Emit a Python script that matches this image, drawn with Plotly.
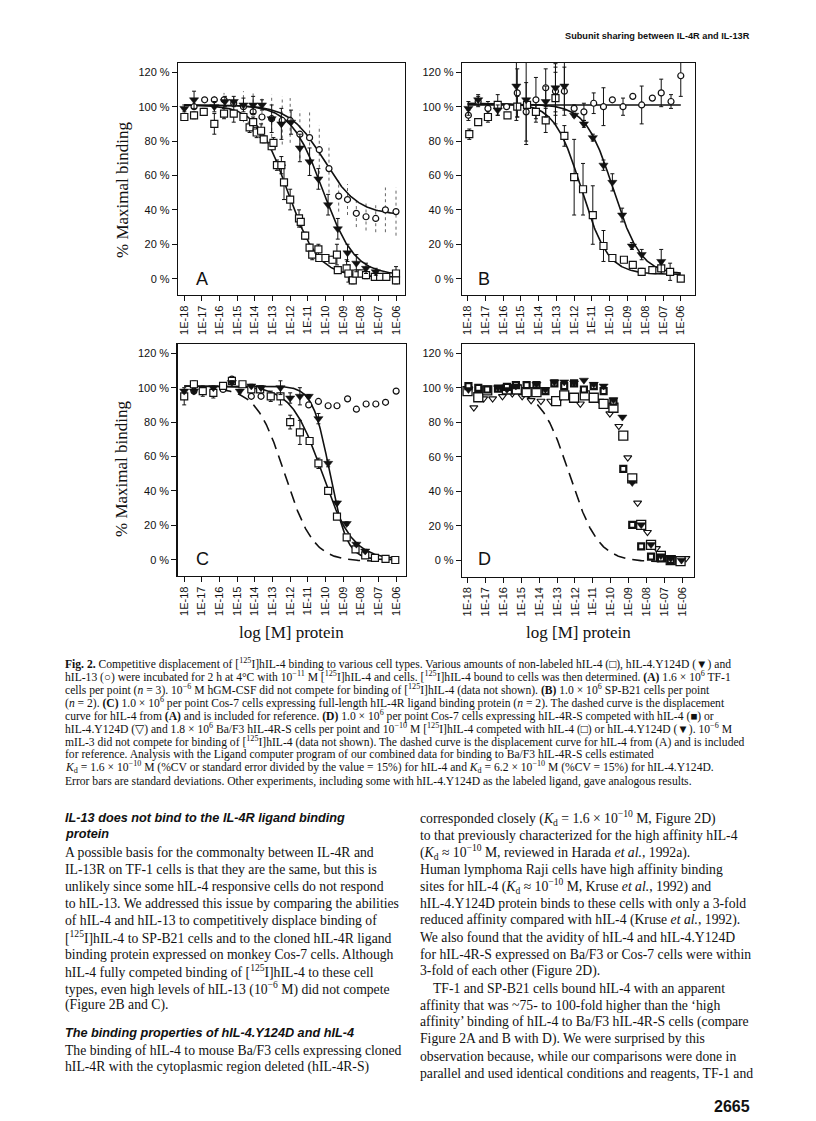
import numpy as np
import plotly.graph_objects as go

W, H = 816, 1121

# ---------------- data ----------------
decades = list(range(-18, -5))
decade_labels = ["1E-18", "1E-17", "1E-16", "1E-15", "1E-14", "1E-13", "1E-12",
                 "1E-11", "1E-10", "1E-09", "1E-08", "1E-07", "1E-06"]
pct_vals = [0, 20, 40, 60, 80, 100, 120]
pct_labels = ["0 %", "20 %", "40 %", "60 %", "80 %", "100 %", "120 %"]

# Panel A (TF-1)
A_sq_x = [-18.0, -17.45, -16.9, -16.3, -15.75, -15.2, -14.65, -14.3, -14.1, -13.9, -13.65, -13.5, -13.05, -12.95,
          -12.75, -12.5, -12.35, -12.0, -11.5, -11.4, -11.15, -10.9, -10.75, -10.4, -10.35, -10.0, -9.6, -9.35,
          -9.3, -8.8, -8.7, -8.45, -8.25, -7.95, -7.7, -7.2, -6.9, -6.55, -6.0, -6.0]
A_sq_y = [94, 95, 97, 90, 96, 96, 94, 88, 91, 85, 86, 81, 77, 79, 66, 66, 56, 46, 35, 33, 25, 18, 14, 17, 12, 12,
          11, 14, 5, 6, 3, -1, 3, 3, 2, 1, 1, 1, 3, -1]
A_sq_e = [2, 2, 2, 6, 3, 5, 2, 3, 3, 3, 4, 2, 2, 3, 3, 5, 10, 6, 5, 3, 2, 2, 3, 3, 2, 2, 2, 6, 2, 5, 5, 2, 2, 2,
          2, 2, 2, 2, 4, 2]
A_tri_x = [-18.0, -17.45, -16.3, -15.7, -15.2, -14.65, -14.1, -13.6, -13.05, -12.5, -11.95, -11.45, -10.9, -10.4,
           -9.85, -9.3, -8.75, -8.25, -7.7, -7.15]
A_tri_y = [99, 104, 100, 103, 103, 101, 101, 101, 93, 90, 91, 76, 68, 58, 43, 29, 15, 9, 6, 4]
A_tri_e = [2, 5, 3, 3, 3, 4, 5, 3, 8, 9, 7, 8, 8, 6, 6, 6, 5, 5, 3, 2]
A_cir_x = [-17.45, -16.85, -16.3, -15.75, -15.2, -14.65, -14.1, -13.6, -13.05, -12.45, -12.0, -11.45, -10.9,
           -10.35, -9.8, -9.25, -8.75, -8.25, -7.7, -7.15, -6.6, -6.0]
A_cir_y = [100, 104, 104, 104, 102, 100, 97, 94, 93, 92, 92, 84, 82, 75, 64, 48, 46, 38, 36, 35, 40, 39]
A_cir_e = [0, 0, 3, 4, 5, 9, 12, 12, 14, 14, 13, 14, 15, 14, 14, 9, 9, 8, 8, 8, 13, 14]

# Panel B (SP-B21)
B_sq_x = [-17.9, -17.4, -16.85, -16.3, -15.75, -15.2, -14.65, -14.15, -13.6, -13.05, -12.55, -12.0, -11.5,
          -10.95, -10.35, -9.85, -9.2, -8.7, -8.2, -7.6, -7.1, -6.6, -6.0]
B_sq_y = [84, 91, 94, 101, 95, 100, 101, 97, 92, 105, 83, 59, 52, 37, 19, 12, 11, 8, 4, 5, 6, 4, 0]
B_sq_e = [3, 1, 3, 2, 1, 6, 2, 4, 7, 15, 6, 22, 15, 17, 9, 1, 1, 2, 2, 2, 3, 5, 1]
B_tri_x = [-17.95, -17.4, -16.3, -15.25, -14.7, -13.6, -13.05, -12.55, -12.0, -11.45, -10.95, -10.35, -9.85,
           -9.3, -8.75, -8.2, -7.1]
B_tri_y = [99, 104, 98, 112, 104, 103, 111, 112, 95, 90, 82, 66, 56, 37, 19, 14, 10]
B_tri_e = [4, 3, 3, 20, 26, 9, 14, 14, 1, 2, 2, 3, 5, 4, 2, 3, 7]
B_cir_x = [-17.95, -17.4, -16.85, -16.3, -15.8, -15.2, -14.7, -14.15, -13.6, -13.05, -12.55, -12.0, -11.45,
           -10.9, -10.35, -9.85, -9.25, -8.7, -8.2, -7.6, -7.1, -6.55, -6.0]
B_cir_y = [95, 103, 99, 101, 100, 108, 97, 104, 111, 109, 109, 99, 97, 102, 100, 104, 100, 106, 101, 105, 108,
           103, 118]
B_cir_e = [3, 3, 4, 6, 0, 14, 17, 13, 11, 14, 14, 2, 5, 6, 11, 0, 5, 0, 11, 0, 8, 4, 12]

# Panel C (Cos-7, full-length hIL-4R)
C_sq_x = [-18.0, -17.45, -16.95, -16.35, -15.8, -15.3, -14.7, -14.2, -13.7, -13.1, -12.55, -12.0, -11.45,
          -10.9, -10.4, -9.85, -9.35, -8.8, -8.3, -7.75, -7.2, -6.6, -6.05]
C_sq_y = [95, 102, 98, 97, 101, 104, 102, 99, 99, 95, 95, 80, 74, 69, 56, 40, 25, 13, 6, 2.5, 1, 0.5, -0.2]
C_sq_e = [5, 2, 3, 3, 1, 1, 1, 1, 1, 3, 5, 4, 7, 1, 3, 1, 1, 1, 1, 1, 0, 0, 0]
C_tri_x = [-18.0, -17.45, -16.35, -15.3, -14.85, -14.2, -13.65, -12.55, -12.0, -11.45, -10.95, -10.4, -9.85,
           -9.35, -8.8, -8.25, -7.75]
C_tri_y = [98, 98, 100, 103, 98, 101, 100, 100, 94, 95, 95, 82, 56, 33, 21, 9, 5]
C_tri_e = [1, 1, 1, 1, 1, 1, 1, 4, 3, 5, 1, 3, 2, 1, 1, 1, 1]
C_cir_x = [-17.45, -16.35, -15.8, -15.3, -14.2, -13.65, -13.1, -12.55, -10.95, -10.4, -9.85, -9.35, -8.75,
           -8.25, -7.7, -7.15, -6.6, -6.0]
C_cir_y = [98, 98, 99, 105, 95, 95, 95, 95, 90, 92, 89.5, 89.5, 93.5, 87.5, 90.5, 90.5, 91.5, 98]

# Panel D (hIL-4R-S)
D_cos_sq_x = [-17.95, -17.4, -16.9, -16.3, -15.8, -15.3, -14.7, -14.15, -13.65, -13.15, -12.6, -12.05, -11.5,
              -10.95, -10.4, -9.85, -9.3, -8.8, -8.3, -7.75, -7.2, -6.65]
D_cos_sq_y = [101, 100, 99, 99.5, 100.5, 101.5, 101.5, 101.5, 98, 102.5, 101, 102.5, 99, 101, 98, 92, 53,
              20.5, 8, 2, 1, 0]
D_cos_tri_x = [-17.65, -17.1, -16.6, -16.05, -15.5, -14.95, -14.45, -13.9, -13.35, -12.85, -12.25, -11.7,
               -10.6, -10.05, -9.55, -9.05, -8.5, -7.95, -7.45, -6.95, -6.35, -5.8]
D_cos_tri_y = [88.5, 93.7, 93.7, 95, 96.6, 95, 92.7, 92.3, 92.3, 93.7, 95.6, 90.7, 92.3, 85, 77.7, 59.5, 33.2,
               16.2, 6.8, 1, 1, 1]
D_baf_sq_x = [-18.0, -17.4, -16.9, -15.8, -15.25, -14.7, -14.15, -13.05, -12.6, -12.05, -11.45, -10.95, -10.4,
              -9.85, -9.3, -8.8, -8.3, -7.75, -7.2, -6.65, -6.1]
D_baf_sq_y = [98, 94.5, 98.5, 99, 99, 97.5, 97.5, 92.3, 95.6, 94.2, 95.6, 94.2, 90.7, 88.4, 72.2, 47.4, 20.5,
              8.8, 2.5, 0, -0.6]
D_baf_tri_x = [-17.95, -16.3, -15.8, -15.3, -14.15, -13.65, -13.15, -12.6, -12.05, -11.5, -10.95, -10.4,
               -9.85, -9.35, -8.8, -8.3, -7.75, -7.2, -6.65, -6.05]
D_baf_tri_y = [99, 100, 99, 101, 102, 99, 103.4, 103.4, 102.8, 104.4, 102, 101, 93, 83, 45, 20.5, 9, 2.5, 1, 0]

# fitted displacement curves: (top, bottom, log IC50, slope)
A_sq_fit = (101, 1, -12.15, 0.50)
A_tri_fit = (101, 2, -10.15, 0.48)
A_cir_fit = (101, 37, -10.1, 0.45)
B_sq_fit = (102, 2.5, -11.6, 0.58)
B_tri_fit = (101.5, 2.5, -9.8, 0.56)
B_cir_fit = (101, 101, -10.0, 1.0)
C_sq_fit = (101, 0, -10.2, 0.50)
C_tri_fit = (101, 0, -9.76, 0.90)
ref_fit = (100, -1, -12.3, 0.54)      # dashed reference (hIL-4 from A)
ref_span = (-16.0, -7.3)


def curve(p, x0=-18.0, x1=-6.0):
    top, bot, c, n = p
    xs = np.linspace(x0, x1, 300)
    return xs, bot + (top - bot) / (1 + 10 ** ((xs - c) * n))


def px_x(p):
    return p / W


def px_y(p):
    return 1 - p / H


fig = go.Figure()

panels = {
    "A": dict(ax="", x0=178, x1=405, y0=63, y1=295, xr=[-18.36, -5.49]),
    "B": dict(ax="2", x0=462, x1=695, y0=63, y1=295, xr=[-18.31, -5.2]),
    "C": dict(ax="3", x0=177.5, x1=405.5, y0=344, y1=576, xr=[-18.38, -5.47]),
    "D": dict(ax="4", x0=462, x1=694, y0=344, y1=576.5, xr=[-18.31, -5.35]),
}
yr = [-9.5, 125.4]
tickfont = dict(family="Liberation Sans, Arial", size=11, color="#111")

layout_axes = {}
for name, p in panels.items():
    ax = p["ax"]
    layout_axes["xaxis" + ax] = dict(
        domain=[px_x(p["x0"]), px_x(p["x1"])], range=p["xr"], anchor="y" + ax,
        tickvals=decades, ticktext=decade_labels, tickangle=-90, ticks="outside", ticklen=5,
        tickcolor="#111", showline=True, linecolor="#111", linewidth=1.2, mirror=True,
        showgrid=False, zeroline=False, tickfont=tickfont, fixedrange=True)
    layout_axes["yaxis" + ax] = dict(
        domain=[px_y(p["y1"]), px_y(p["y0"])], range=yr, anchor="x" + ax,
        tickvals=pct_vals, ticktext=pct_labels, ticks="outside", ticklen=5,
        tickcolor="#111", showline=True, linecolor="#111", linewidth=1.2, mirror=True,
        showgrid=False, zeroline=False, tickfont=tickfont, fixedrange=True)


def refs(name):
    ax = panels[name]["ax"]
    return dict(xaxis="x" + ax, yaxis="y" + ax)


def add_curve(name, p, dash="solid", x0=-18.0, x1=-6.0):
    xs, ys = curve(p, x0, x1)
    fig.add_trace(go.Scatter(x=xs, y=ys, mode="lines", line=dict(color="#111", width=1.6, dash=dash),
                             hoverinfo="skip", showlegend=False, **refs(name)))


def add_pts(name, x, y, symbol, size, fill, err=None, lw=1.2):
    kw = {}
    if err is not None:
        kw["error_y"] = dict(type="data", array=err, color="#111", thickness=1, width=2)
    fig.add_trace(go.Scatter(x=x, y=y, mode="markers",
                             marker=dict(symbol=symbol, size=size, color=fill,
                                         line=dict(color="#111", width=lw)),
                             showlegend=False, **refs(name), **kw))


def add_dotted_bars(name, x, y, e):
    xs, ys = [], []
    for xi, yi, ei in zip(x, y, e):
        if ei > 0:
            xs += [xi, xi, None]
            ys += [yi - ei, yi + ei, None]
    fig.add_trace(go.Scatter(x=xs, y=ys, mode="lines", line=dict(color="#666", width=1, dash="dot"),
                             hoverinfo="skip", showlegend=False, **refs(name)))


# A
add_dotted_bars("A", A_cir_x, A_cir_y, A_cir_e)
add_curve("A", A_sq_fit)
add_curve("A", A_tri_fit)
add_curve("A", A_cir_fit)
add_pts("A", A_cir_x, A_cir_y, "circle", 6, "white")
add_pts("A", A_sq_x, A_sq_y, "square", 7, "white", A_sq_e)
add_pts("A", A_tri_x, A_tri_y, "triangle-down", 8, "#111", A_tri_e, lw=0.5)

# B
add_curve("B", B_sq_fit)
add_curve("B", B_tri_fit)
add_curve("B", B_cir_fit)
add_pts("B", B_cir_x, B_cir_y, "circle", 6, "white", B_cir_e)
add_pts("B", B_sq_x, B_sq_y, "square", 7, "white", B_sq_e)
add_pts("B", B_tri_x, B_tri_y, "triangle-down", 8, "#111", B_tri_e, lw=0.5)

# C
add_curve("C", ref_fit, dash="12px,7px", x0=ref_span[0], x1=ref_span[1])
add_curve("C", C_sq_fit)
add_curve("C", C_tri_fit)
add_pts("C", C_cir_x, C_cir_y, "circle", 6, "white")
add_pts("C", C_sq_x, C_sq_y, "square", 7, "white", C_sq_e)
add_pts("C", C_tri_x, C_tri_y, "triangle-down", 8, "#111", C_tri_e, lw=0.5)

# D
add_curve("D", ref_fit, dash="12px,7px", x0=ref_span[0], x1=ref_span[1])
add_pts("D", D_cos_tri_x, D_cos_tri_y, "triangle-down", 7, "white", lw=1.1)
add_pts("D", D_baf_sq_x, D_baf_sq_y, "square", 9, "white", lw=1.3)
add_pts("D", D_cos_sq_x, D_cos_sq_y, "square", 6, "white", lw=2.2)
add_pts("D", D_baf_tri_x, D_baf_tri_y, "triangle-down", 8, "#111", lw=0.5)

ann = []


def txt(x, y, s, size, family="Liberation Serif, Times New Roman", anchor="left", angle=0, color="#111"):
    ann.append(dict(x=px_x(x), y=px_y(y), xref="paper", yref="paper", text=s, showarrow=False,
                    xanchor=anchor, yanchor="middle", textangle=angle,
                    font=dict(family=family, size=size, color=color)))


SANS = "Liberation Sans, Arial"
CAP = 11.6
BODY = 13.7
HEAD = 12.7

# header & page number
txt(752, 36, "<b>Subunit sharing between IL-4R and IL-13R</b>", 9.2, SANS, "right")
txt(752, 1106, "<b>2665</b>", 16, SANS, "right")

# panel letters
for name, (lx, ly) in {"A": (202, 279), "B": (484, 279), "C": (202, 559), "D": (484, 559)}.items():
    txt(lx, ly, name, 18, SANS, "center")

# axis titles
txt(122, 190, "% Maximal binding", 17, angle=-90, anchor="center")
txt(122, 469, "% Maximal binding", 17, angle=-90, anchor="center")
txt(291, 632, "log [M] protein", 17, anchor="center")
txt(578, 632, "log [M] protein", 17, anchor="center")

# caption
caption = [
    "<b>Fig. 2.</b> Competitive displacement of [<sup>125</sup>I]hIL-4 binding to various cell types. Various amounts of non-labeled hIL-4 (□), hIL-4.Y124D (▼) and",
    "hIL-13 (○) were incubated for 2 h at 4°C with 10<sup>−11</sup> M [<sup>125</sup>I]hIL-4 and cells. [<sup>125</sup>I]hIL-4 bound to cells was then determined. <b>(A)</b> 1.6 × 10<sup>6</sup> TF-1",
    "cells per point (<i>n</i> = 3). 10<sup>−6</sup> M hGM-CSF did not compete for binding of [<sup>125</sup>I]hIL-4 (data not shown). <b>(B)</b> 1.0 × 10<sup>6</sup> SP-B21 cells per point",
    "(<i>n</i> = 2). <b>(C)</b> 1.0 × 10<sup>6</sup> per point Cos-7 cells expressing full-length hIL-4R ligand binding protein (<i>n</i> = 2). The dashed curve is the displacement",
    "curve for hIL-4 from <b>(A)</b> and is included for reference. <b>(D)</b> 1.0 × 10<sup>6</sup> per point Cos-7 cells expressing hIL-4R-S competed with hIL-4 (■) or",
    "hIL-4.Y124D (▽) and 1.8 × 10<sup>6</sup> Ba/F3 hIL-4R-S cells per point and 10<sup>−10</sup> M [<sup>125</sup>I]hIL-4 competed with hIL-4 (□) or hIL-4.Y124D (▼). 10<sup>−6</sup> M",
    "mIL-3 did not compete for binding of [<sup>125</sup>I]hIL-4 (data not shown). The dashed curve is the displacement curve for hIL-4 from (A) and is included",
    "for reference. Analysis with the Ligand computer program of our combined data for binding to Ba/F3 hIL-4R-S cells estimated",
    "<i>K</i><sub>d</sub> = 1.6 × 10<sup>−10</sup> M (%CV or standard error divided by the value = 15%) for hIL-4 and <i>K</i><sub>d</sub> = 6.2 × 10<sup>−10</sup> M (%CV = 15%) for hIL-4.Y124D.",
    "Error bars are standard deviations. Other experiments, including some with hIL-4.Y124D as the labeled ligand, gave analogous results.",
]
cap_y = [663, 676, 689, 702, 715, 728, 741, 754, 767, 781]
for yy, s in zip(cap_y, caption):
    txt(63, yy, s, CAP)

# body text, left column
txt(63, 818, "<b><i>IL-13 does not bind to the IL-4R ligand binding</i></b>", HEAD, SANS)
txt(63, 834, "<b><i>protein</i></b>", HEAD, SANS)
left_body = [
    "A possible basis for the commonalty between IL-4R and",
    "IL-13R on TF-1 cells is that they are the same, but this is",
    "unlikely since some hIL-4 responsive cells do not respond",
    "to hIL-13. We addressed this issue by comparing the abilities",
    "of hIL-4 and hIL-13 to competitively displace binding of",
    "[<sup>125</sup>I]hIL-4 to SP-B21 cells and to the cloned hIL-4R ligand",
    "binding protein expressed on monkey Cos-7 cells. Although",
    "hIL-4 fully competed binding of [<sup>125</sup>I]hIL-4 to these cell",
    "types, even high levels of hIL-13 (10<sup>−6</sup> M) did not compete",
    "(Figure 2B and C).",
]
for i, s in enumerate(left_body):
    txt(63, 852 + 17 * i, s, BODY)
txt(63, 1033, "<b><i>The binding properties of hIL-4.Y124D and hIL-4</i></b>", HEAD, SANS)
txt(63, 1050, "The binding of hIL-4 to mouse Ba/F3 cells expressing cloned", BODY)
txt(63, 1067, "hIL-4R with the cytoplasmic region deleted (hIL-4R-S)", BODY)

# body text, right column
right_body = [
    "corresponded closely (<i>K</i><sub>d</sub> = 1.6 × 10<sup>−10</sup> M, Figure 2D)",
    "to that previously characterized for the high affinity hIL-4",
    "(<i>K</i><sub>d</sub> ≈ 10<sup>−10</sup> M, reviewed in Harada <i>et al.</i>, 1992a).",
    "Human lymphoma Raji cells have high affinity binding",
    "sites for hIL-4 (<i>K</i><sub>d</sub> ≈ 10<sup>−10</sup> M, Kruse <i>et al.</i>, 1992) and",
    "hIL-4.Y124D protein binds to these cells with only a 3-fold",
    "reduced affinity compared with hIL-4 (Kruse <i>et al.</i>, 1992).",
    "We also found that the avidity of hIL-4 and hIL-4.Y124D",
    "for hIL-4R-S expressed on Ba/F3 or Cos-7 cells were within",
    "3-fold of each other (Figure 2D).",
    "TF-1 and SP-B21 cells bound hIL-4 with an apparent",
    "affinity that was ~75- to 100-fold higher than the ‘high",
    "affinity’ binding of hIL-4 to Ba/F3 hIL-4R-S cells (compare",
    "Figure 2A and B with D). We were surprised by this",
    "observation because, while our comparisons were done in",
    "parallel and used identical conditions and reagents, TF-1 and",
]
for i, s in enumerate(right_body):
    txt(431 if i == 10 else 418, 818 + 17 * i, s, BODY)

fig.update_layout(
    width=W, height=H, margin=dict(l=0, r=0, t=0, b=0),
    paper_bgcolor="white", plot_bgcolor="white", showlegend=False,
    annotations=ann, **layout_axes)

fig.write_html("out.html", config={"displayModeBar": False, "staticPlot": True},
               post_script="document.body.style.margin='0';document.body.style.overflow='hidden';")
